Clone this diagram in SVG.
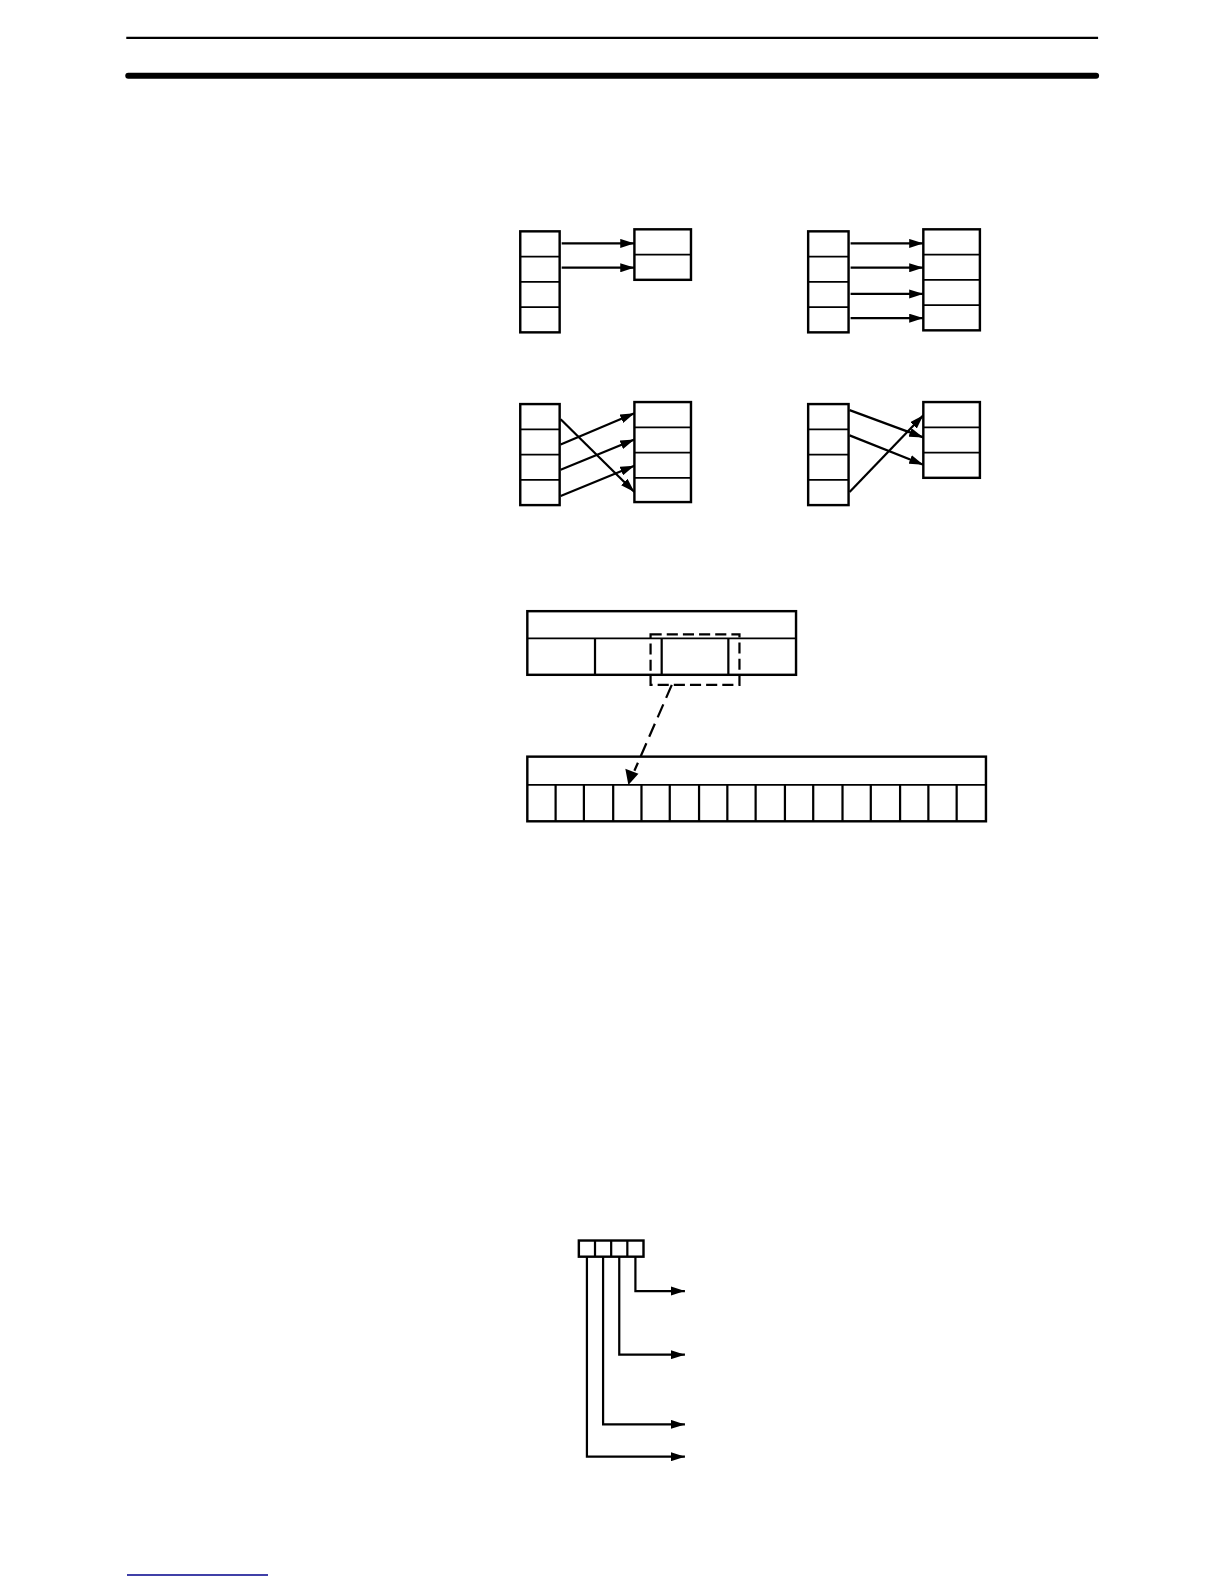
<svg xmlns="http://www.w3.org/2000/svg" width="1224" height="1584" viewBox="0 0 1224 1584">
<style>
.b{fill:#fff;stroke:#000;stroke-width:2.4}
.l{fill:none;stroke:#000;stroke-width:2.2}
.t{fill:none;stroke:#000;stroke-width:1.8}
.a{fill:none;stroke:#000;stroke-width:2.2;marker-end:url(#ah)}
.d{fill:none;stroke:#000;stroke-width:2.2;stroke-dasharray:11,5}
.dl{fill:none;stroke:#000;stroke-width:2.2;stroke-dasharray:14,7}
</style>
<defs>
<marker id="ah" viewBox="0 0 14 9" refX="14" refY="4.5" markerWidth="14" markerHeight="9" markerUnits="userSpaceOnUse" orient="auto">
<path d="M0,0 L14,4.5 L0,9 Z" fill="#000"/>
</marker>
</defs>
<g transform="scale(1.0102)">
<g id="header">
<line x1="125" y1="37.5" x2="1087" y2="37.5" stroke="#000" stroke-width="2"/>
<line x1="127" y1="75" x2="1085" y2="75" stroke="#000" stroke-width="6" stroke-linecap="round"/>
</g>
<g id="d1-left"><rect class="b" x="515" y="229" width="39" height="100"/><path class="t" d="M515,254H554M515,279H554M515,304H554"/></g>
<g id="d1-right"><rect class="b" x="628" y="227" width="56" height="50"/><path class="t" d="M628,252H684"/></g>
<g id="d2-left"><rect class="b" x="800" y="229" width="40" height="100"/><path class="t" d="M800,254H840M800,279H840M800,304H840"/></g>
<g id="d2-right"><rect class="b" x="914" y="227" width="56" height="100"/><path class="t" d="M914,252H970M914,277H970M914,302H970"/></g>
<g id="d3-left"><rect class="b" x="515" y="400" width="39" height="100"/><path class="t" d="M515,425H554M515,450H554M515,475H554"/></g>
<g id="d3-right"><rect class="b" x="628" y="398" width="56" height="99"/><path class="t" d="M628,423H684M628,448H684M628,473H684"/></g>
<g id="d4-left"><rect class="b" x="800" y="400" width="40" height="100"/><path class="t" d="M800,425H840M800,450H840M800,475H840"/></g>
<g id="d4-right"><rect class="b" x="914" y="398" width="56" height="75"/><path class="t" d="M914,423H970M914,448H970"/></g>
<g id="word-box"><rect class="b" x="522" y="605" width="266" height="63"/><path class="t" d="M522,632H788"/><path class="l" d="M589,632V668M655,632V668M721,632V668"/></g>
<g id="bit-box"><rect class="b" x="522" y="749" width="454" height="64"/><path class="t" d="M522,777H976"/><path class="l" d="M550,777V813M578,777V813M607,777V813M635,777V813M663,777V813M692,777V813M720,777V813M748,777V813M777,777V813M805,777V813M834,777V813M862,777V813M891,777V813M919,777V813M947,777V813"/></g>
<g id="dashed-select"><rect class="d" x="644" y="628" width="88" height="50"/></g>
<g id="digits"><rect class="b" x="573" y="1228" width="64" height="16"/><path class="l" d="M589,1228V1244M605,1228V1244M621,1228V1244"/></g>
<g id="connectors">
<line class="a" x1="556" y1="241" x2="628" y2="241"/>
<line class="a" x1="556" y1="265" x2="628" y2="265"/>
<line class="a" x1="842" y1="241" x2="914" y2="241"/>
<line class="a" x1="842" y1="265" x2="914" y2="265"/>
<line class="a" x1="842" y1="291" x2="914" y2="291"/>
<line class="a" x1="842" y1="315" x2="914" y2="315"/>
<line class="a" x1="555" y1="415" x2="628" y2="487"/>
<line class="a" x1="555" y1="440" x2="628" y2="409"/>
<line class="a" x1="555" y1="465" x2="628" y2="435"/>
<line class="a" x1="555" y1="491" x2="628" y2="461"/>
<line class="a" x1="841" y1="406" x2="914" y2="433"/>
<line class="a" x1="841" y1="431" x2="914" y2="460"/>
<line class="a" x1="841" y1="487" x2="914" y2="411"/>
<line class="dl" x1="665" y1="678" x2="628" y2="763"/>
<path d="M622,777 L619,761 L632,766 Z" fill="#000"/>
<path class="a" d="M629,1244V1278H678"/>
<path class="a" d="M613,1244V1341H678"/>
<path class="a" d="M597,1244V1410H678"/>
<path class="a" d="M581,1244V1442H678"/>
</g>
</g>
<line x1="127" y1="1575" x2="268" y2="1575" stroke="#00008B" stroke-width="1.5"/>
</svg>
